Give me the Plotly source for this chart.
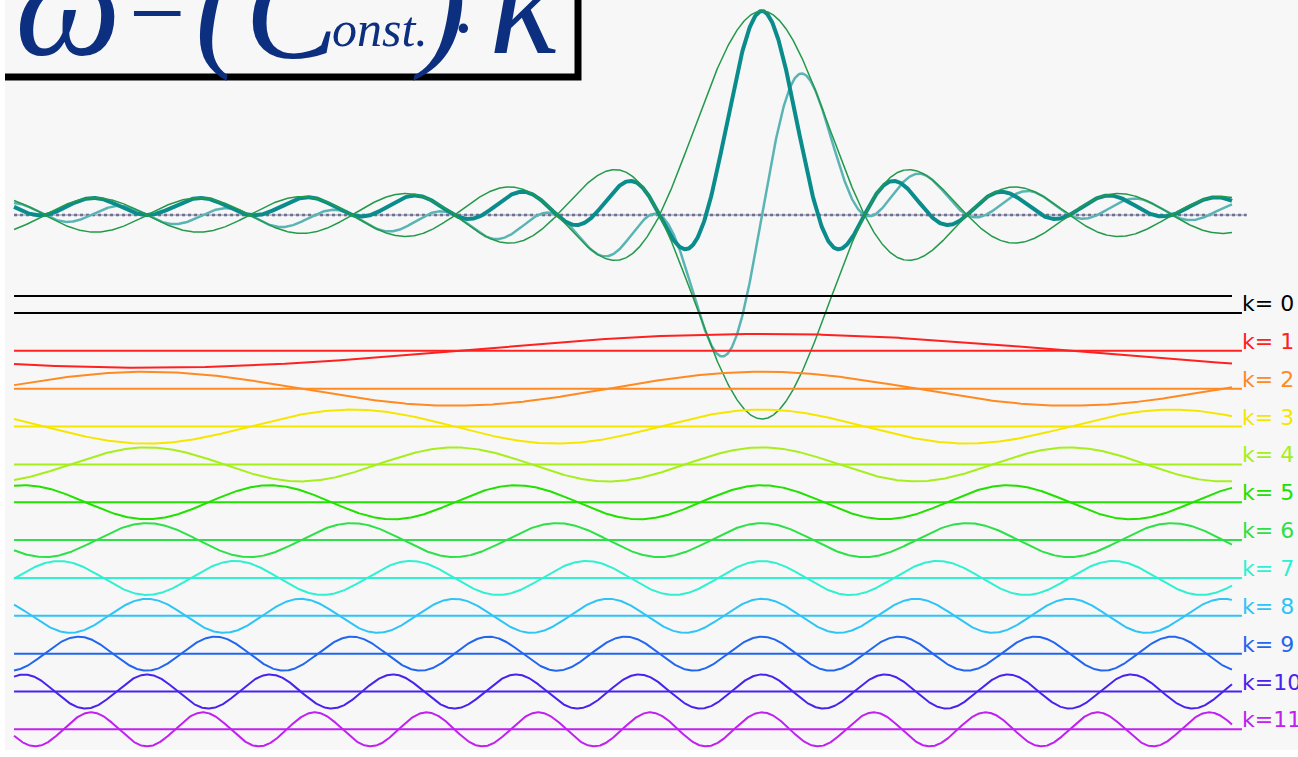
import numpy as np
import plotly.graph_objects as go

# ---------------- data ----------------
K_VALUES = [0, 1, 2, 3, 4, 5, 6, 7, 8, 9, 10, 11]
AMPLITUDES = [1.0] * 12
LABELS = ["k= 0", "k= 1", "k= 2", "k= 3", "k= 4", "k= 5",
          "k= 6", "k= 7", "k= 8", "k= 9", "k=10", "k=11"]
COLORS = ["#000000", "#ff2020", "#ff8a22", "#f5e600", "#a6ee1c", "#22e000",
          "#2ee048", "#2ff0d0", "#2ec4f6", "#2266f0", "#4a22ee", "#c020f0"]
X_START, X_END = -0.6081, 0.3821          # in units of the k=1 wavelength
BASE_END, AXIS_END = 0.3902, 0.3940
STACK_TOP, STACK_STEP = -5.765, -2.2265    # component baselines (amplitude units)

# ---------------- geometry helpers (layout only) ----------------
W, H = 1298, 757
XC, LPX = 762.0, 1230.0      # pixel of packet centre, pixels per wavelength
Y0, UPX = 215.0, 17.0        # pixel of packet zero line, pixels per unit


def px(p):
    return p / W


def py(p):
    return 1 - p / H


u = np.linspace(X_START, X_END, 2000)
fig = go.Figure()

# packet (sum of all components)
S = np.zeros_like(u, dtype=complex)
for k, a in zip(K_VALUES, AMPLITUDES):
    S += a * np.exp(1j * 2 * np.pi * k * u)

fig.add_trace(go.Scatter(x=[X_START, AXIS_END], y=[0, 0], mode="lines",
                         line=dict(color="#55557e", width=2.5, dash="dot"), hoverinfo="skip"))
fig.add_trace(go.Scatter(x=[X_START, AXIS_END], y=[0, 0], mode="lines",
                         line=dict(color="#8a8aa8", width=1), hoverinfo="skip"))
fig.add_trace(go.Scatter(x=u, y=S.imag, mode="lines",
                         line=dict(color="#5ab4b4", width=2.5), hoverinfo="skip"))
fig.add_trace(go.Scatter(x=u, y=S.real, mode="lines",
                         line=dict(color="#0a8c8c", width=4), hoverinfo="skip"))
fig.add_trace(go.Scatter(x=u, y=np.abs(S), mode="lines",
                         line=dict(color="#23994a", width=1.5), hoverinfo="skip"))
fig.add_trace(go.Scatter(x=u, y=-np.abs(S), mode="lines",
                         line=dict(color="#23994a", width=1.5), hoverinfo="skip"))

# components
for i, (k, a, c) in enumerate(zip(K_VALUES, AMPLITUDES, COLORS)):
    base = STACK_TOP + STACK_STEP * i
    fig.add_trace(go.Scatter(x=[X_START, BASE_END], y=[base, base], mode="lines",
                             line=dict(color=c, width=2), hoverinfo="skip"))
    fig.add_trace(go.Scatter(x=u, y=base + a * np.cos(2 * np.pi * k * u), mode="lines",
                             line=dict(color=c, width=2), hoverinfo="skip"))
    ypix = Y0 - base * UPX
    fig.add_annotation(x=px(1240), y=py(ypix + 5), xref="paper", yref="paper",
                       text=LABELS[i], showarrow=False, xanchor="left", yanchor="bottom",
                       font=dict(family="DejaVu Sans", size=22, color=c))

# title box
shapes = [
    dict(type="rect", xref="paper", yref="paper", x0=px(-10), x1=px(578), y0=py(-10), y1=py(77),
         line=dict(color="#000000", width=7), fillcolor="#f7f7f7", layer="below"),
    dict(type="rect", xref="paper", yref="paper", x0=0, x1=px(5), y0=0, y1=1,
         line=dict(width=0), fillcolor="#ffffff", layer="above"),
    dict(type="rect", xref="paper", yref="paper", x0=0, x1=1, y0=0, y1=py(750),
         line=dict(width=0), fillcolor="#ffffff", layer="above"),
]
TCOL = "#0d2f80"
TF = "Liberation Serif"
pieces = [
    ("<i>ω</i>", 68, 150, 4),
    ("=", 157, 100, 4),
    ("<i>(</i>", 222, 140, 3),
    ("<i>C</i>", 292, 140, 10),
    ("<i>onst.</i>", 380, 50, 29),
    ("<i>)</i>", 440, 140, 3),
    ("·", 464, 80, 28),
    ("<i>k</i>", 524, 150, 2),
]
for txt, xc, fs, yc in pieces:
    fig.add_annotation(x=px(xc), y=py(yc), xref="paper", yref="paper", text=txt,
                       showarrow=False, xanchor="center", yanchor="middle",
                       font=dict(family=TF, size=fs, color=TCOL))

fig.update_layout(
    width=W, height=H, margin=dict(l=0, r=0, t=0, b=0),
    paper_bgcolor="#ffffff", plot_bgcolor="#f7f7f7", showlegend=False,
    xaxis=dict(range=[(0 - XC) / LPX, (W - XC) / LPX], visible=False, fixedrange=True),
    yaxis=dict(range=[(Y0 - H) / UPX, Y0 / UPX], visible=False, fixedrange=True),
    shapes=shapes,
)
fig.write_html("out.html")
